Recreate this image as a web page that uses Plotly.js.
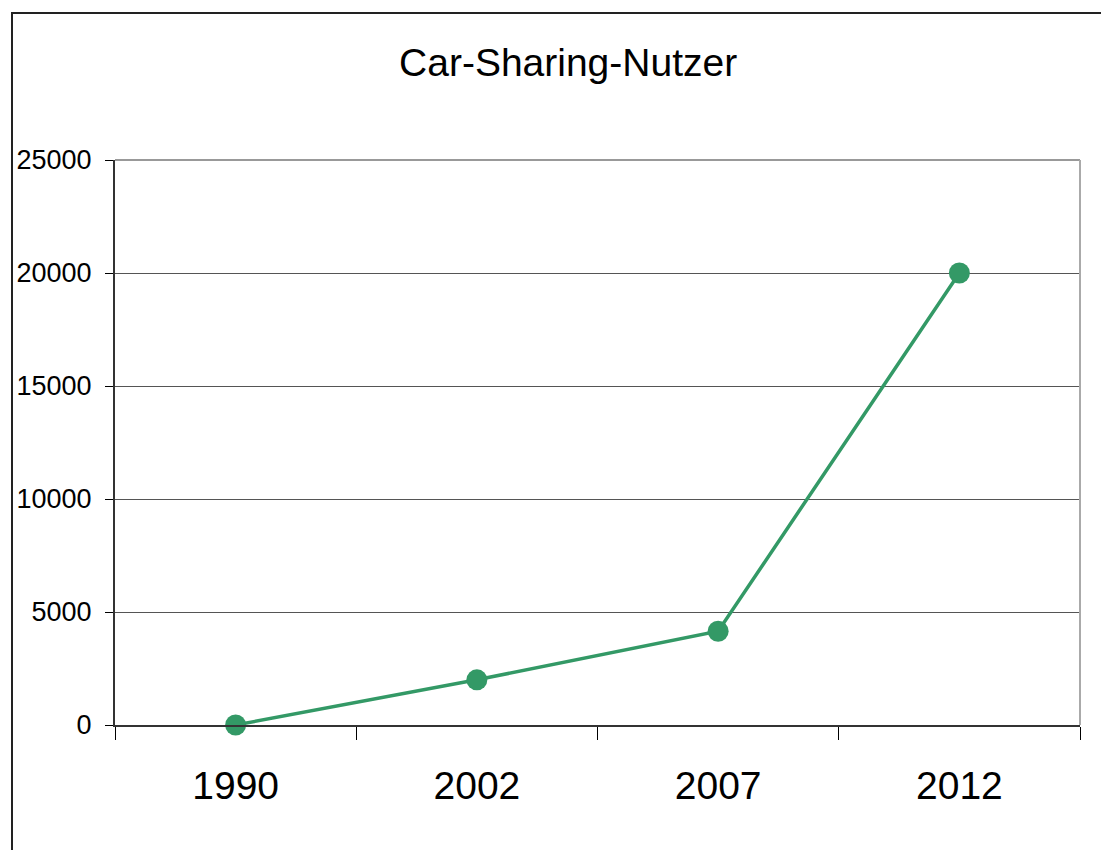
<!DOCTYPE html>
<html>
<head>
<meta charset="utf-8">
<script src="https://cdn.plot.ly/plotly-3.0.1.min.js"></script>
<style>
html,body{margin:0;padding:0;background:#fff;overflow:hidden;}
#wrap{position:relative;width:1101px;height:850px;}
#chart{position:absolute;left:0;top:0;width:1101px;height:850px;}
#frame{position:absolute;left:11px;top:12px;width:1200px;height:900px;border-left:2px solid #222;border-top:2px solid #222;pointer-events:none;}
</style>
</head>
<body>
<div id="wrap"><div id="chart"></div><div id="frame"></div></div>
<script>
const years = ['1990', '2002', '2007', '2012'];
const users = [0, 2000, 4150, 20000];
const yTicks = [0, 5000, 10000, 15000, 20000, 25000];
const chartTitle = 'Car-Sharing-Nutzer';

const trace = {
  x: years,
  y: users,
  type: 'scatter',
  mode: 'lines+markers',
  line: {color: '#339966', width: 3.5},
  marker: {color: '#339966', size: 21},
  cliponaxis: false,
  hoverinfo: 'skip'
};

const layout = {
  width: 1101,
  height: 850,
  margin: {l: 115, r: 21, t: 160, b: 125},
  paper_bgcolor: '#ffffff',
  plot_bgcolor: '#ffffff',
  showlegend: false,
  font: {family: 'Liberation Sans, Arial, sans-serif', color: '#000'},
  title: {text: chartTitle, font: {size: 39, color: '#000'}, x: 0.516, xanchor: 'center', y: 0.927, yanchor: 'middle'},
  xaxis: {
    type: 'category',
    range: [-0.5, 3.5],
    tickson: 'boundaries',
    ticks: 'outside',
    ticklen: 13,
    tickwidth: 1,
    tickcolor: '#000',
    showgrid: false,
    showline: true,
    linecolor: '#333',
    linewidth: 2,
    tickfont: {size: 39, color: '#000'},
    ticklabelstandoff: 25,
    zeroline: false,
    fixedrange: true
  },
  yaxis: {
    range: [0, 25000],
    tickvals: yTicks,
    ticktext: yTicks.map(String),
    ticks: 'outside',
    ticklen: 8,
    tickwidth: 1,
    tickcolor: '#000',
    showline: true,
    linecolor: '#333',
    linewidth: 2,
    showgrid: true,
    gridcolor: '#555',
    gridwidth: 1,
    zeroline: false,
    tickfont: {size: 27, color: '#000'},
    ticklabelstandoff: 8,
    fixedrange: true
  },
  shapes: [
    {type: 'line', xref: 'paper', yref: 'paper', x0: 0, x1: 1, y0: 1, y1: 1, line: {color: '#999', width: 2}},
    {type: 'line', xref: 'paper', yref: 'paper', x0: 1, x1: 1, y0: 0, y1: 1, line: {color: '#aaa', width: 2}}
  ]
};

Plotly.newPlot('chart', [trace], layout, {staticPlot: true, displayModeBar: false});
</script>
</body>
</html>
